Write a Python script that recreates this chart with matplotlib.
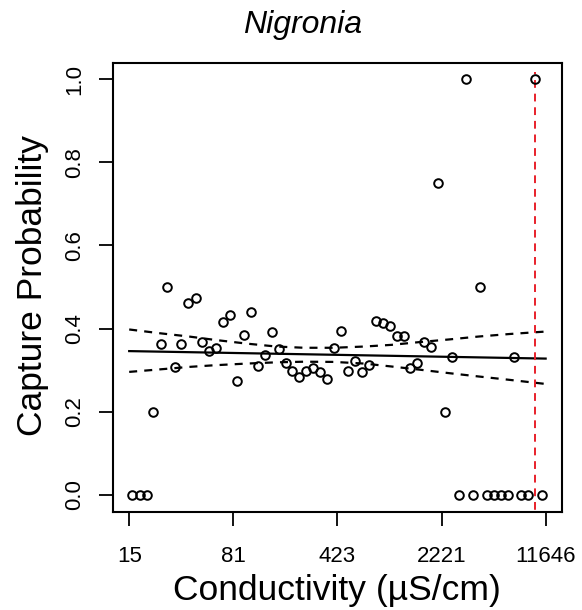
import numpy as np
import matplotlib
matplotlib.use("Agg")
import matplotlib.pyplot as plt

plt.rcParams['font.family'] = ['Liberation Sans', 'DejaVu Sans']

# conductivity (uS/cm) and capture probability per site
conductivity = [16.2, 18.2, 20.5, 22.5, 25.4, 28.2, 31.8, 35.2, 39.3, 44.3,
                49.2, 55.0, 61.5, 68.7, 76.9, 85.1, 95.7, 106.9, 119, 133,
                148.7, 167, 186, 206.5, 231, 258, 288.6, 321, 359, 401.6,
                445, 504, 561, 624, 701, 780, 872, 975, 1090, 1219,
                1354, 1513, 1692, 1882, 2095, 2352, 2642, 2939, 3270, 3656,
                4087, 4569, 5107, 5709, 6382, 7089, 7924, 8857, 9856, 11074]
capture = [0.0, 0.0, 0.0, 0.2, 0.363, 0.5, 0.307, 0.363, 0.461, 0.474,
           0.368, 0.347, 0.354, 0.416, 0.432, 0.275, 0.385, 0.44, 0.309, 0.337,
           0.392, 0.352, 0.318, 0.299, 0.283, 0.297, 0.305, 0.295, 0.28, 0.353,
           0.394, 0.298, 0.323, 0.295, 0.3125, 0.418, 0.413, 0.407, 0.383, 0.383,
           0.306, 0.318, 0.367, 0.357, 0.75, 0.2, 0.3325, 0.0, 1.0, 0.0,
           0.5, 0.0, 0.0, 0.0, 0.0, 0.3325, 0.0, 0.0, 1.0, 0.0]

# fitted line and confidence band
fit_x = [15.4, 423.6, 11646]
fit_y = [0.346, 0.337, 0.328]
band_x = [15.4, 25, 40, 60, 100, 160, 250, 400, 650, 1000, 1600, 2500, 4000, 6500, 11646]
band_hi = [0.398, 0.389, 0.381, 0.373, 0.364, 0.357, 0.354, 0.354, 0.357, 0.361,
           0.368, 0.374, 0.381, 0.387, 0.393]
band_lo = [0.296, 0.302, 0.308, 0.312, 0.316, 0.319, 0.3205, 0.320, 0.316, 0.309,
           0.301, 0.293, 0.285, 0.277, 0.267]

threshold = 9800

xtick_pos = [15.4, 80.8, 423.6, 2221, 11646]
xtick_lab = ['15', '81', '423', '2221', '11646']
ytick_pos = [0.0, 0.2, 0.4, 0.6, 0.8, 1.0]
ytick_lab = ['0.0', '0.2', '0.4', '0.6', '0.8', '1.0']

fig = plt.figure(figsize=(5.82, 6.10), dpi=100)
ax = fig.add_axes([0.1936, 0.1613, 0.7725, 0.7362])

ax.plot(conductivity, capture, 'o', mfc='none', mec='black', ms=6.2, mew=1.4, zorder=3)
ax.plot(fit_x, fit_y, '-', color='black', lw=1.6)
ax.plot(band_x, band_hi, color='black', lw=1.6, linestyle=(0, (3.6, 3.2)))
ax.plot(band_x, band_lo, color='black', lw=1.6, linestyle=(0, (3.6, 3.2)))
ax.plot([threshold, threshold], [-0.1, 1.018], color='#e8202a', lw=1.4,
        linestyle=(0, (4, 3)))

ax.set_xscale('log')
ax.set_xlim(11.84, 15176)
ax.set_ylim(-0.04, 1.04)
ax.minorticks_off()
ax.set_xticks(xtick_pos)
ax.set_xticklabels(xtick_lab)
ax.set_yticks(ytick_pos)
ax.set_yticklabels(ytick_lab, rotation=90, va='center')
ax.tick_params(axis='both', direction='out', length=10, width=1.3, labelsize=16)
ax.tick_params(axis='x', pad=15)
ax.tick_params(axis='y', pad=10)
for s in ax.spines.values():
    s.set_linewidth(1.5)

fig.text(303 / 582, 1 - 33 / 610, 'Nigronia', style='italic', ha='center',
         va='baseline', fontsize=23)
fig.text(337.4 / 582, 1 - 600 / 610, 'Conductivity (µS/cm)', ha='center',
         va='baseline', fontsize=25.5)
fig.text(33 / 582, 0.532, 'Capture Probability', rotation=90, ha='center',
         va='center', fontsize=25.5)

fig.savefig('out.png', dpi=100)
